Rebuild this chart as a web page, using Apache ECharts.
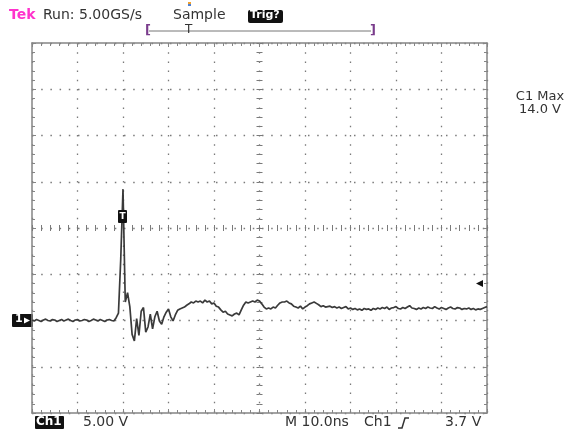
<!DOCTYPE html>
<html>
<head>
<meta charset="utf-8">
<script src="https://cdn.jsdelivr.net/npm/echarts@6/dist/echarts.min.js"></script>
<style>
  html, body { margin: 0; padding: 0; background: #fff; }
  #main { width: 581px; height: 432px; }
</style>
</head>
<body>
<div id="main"></div>
<script>
// scope settings: 10 ns/div, 5 V/div, 0.5 ns per sample
var sampleStep = 0.5;
var timeRange = [0, 100];
var voltRange = [-10, 30];

// Ch1 trace in volts, one value per 0.5 ns, 10 values per row (5 ns)
var ch1Volts = [
  0.05, -0.05, 0.1, 0.0, -0.1, 0.05, 0.15, 0.0, -0.05, 0.1,
  0.05, -0.1, 0.0, 0.1, -0.05, 0.05, 0.15, 0.0, -0.1, 0.05,
  0.1, -0.05, 0.0, 0.1, 0.05, -0.1, 0.0, 0.15, 0.05, -0.05,
  0.1, 0.0, -0.1, 0.05, 0.1, 0.0, -0.05, 0.3, 0.8, 6.6,
  14.2, 2.0, 3.0, 1.5, -1.5, -2.2, 0.2, -1.6, 1.0, 1.4,
  -1.25, -0.7, 0.7, -0.9, 0.4, 1.0, -0.05, -0.4, 0.4, 0.9,
  1.25, 0.4, -0.05, 0.6, 1.1, 1.25, 1.35, 1.45, 1.65, 1.8,
  2.0, 1.9, 2.1, 2.0, 2.1, 1.9, 2.2, 2.0, 2.1, 1.8,
  1.9, 1.55, 1.45, 1.15, 0.9, 1.0, 0.7, 0.6, 0.5, 0.7,
  0.8, 0.6, 1.15, 1.65, 2.0, 1.9, 2.0, 2.1, 2.0, 2.2,
  2.1, 1.8, 1.45, 1.25, 1.35, 1.25, 1.45, 1.35, 1.65, 1.9,
  2.0, 2.0, 2.1, 1.9, 1.8, 1.55, 1.45, 1.35, 1.55, 1.25,
  1.45, 1.6, 1.8, 1.9, 2.0, 1.85, 1.7, 1.5, 1.6, 1.45,
  1.5, 1.55, 1.4, 1.5, 1.35, 1.45, 1.3, 1.4, 1.5, 1.25,
  1.35, 1.2, 1.3, 1.15, 1.25, 1.1, 1.3, 1.2, 1.25, 1.1,
  1.3, 1.2, 1.35, 1.25, 1.4, 1.3, 1.45, 1.2, 1.35, 1.4,
  1.5, 1.3, 1.25, 1.4, 1.3, 1.45, 1.6, 1.35, 1.3, 1.2,
  1.35, 1.25, 1.4, 1.3, 1.45, 1.35, 1.3, 1.5, 1.35, 1.25,
  1.4, 1.3, 1.2, 1.35, 1.45, 1.3, 1.25, 1.4, 1.35, 1.2,
  1.3, 1.25, 1.35, 1.2, 1.3, 1.15, 1.25, 1.2, 1.3, 1.4,
  1.5
];

var topLabels = ['Tek', 'Run: 5.00GS/s', 'Sample', 'Trig?'];
var bottomLabels = ['Ch1', '5.00 V', 'M 10.0ns', 'Ch1', '3.7 V'];
var measLabels = ['C1 Max', '14.0 V'];

var traceData = ch1Volts.map(function (v, i) { return [i * sampleStep, v]; });

var frameColor = '#858585';
var dotColor = '#7a7a7a';
var txtFont = '14px "DejaVu Sans", sans-serif';
var measFont = '13px "DejaVu Sans", sans-serif';
var gridBox = { left: 32, top: 43, width: 455, height: 370 };

function frameAxis(extra) {
  var base = {
    gridIndex: 0,
    type: 'value',
    axisLine: { show: true, onZero: false, lineStyle: { color: frameColor, width: 1.5 } },
    axisTick: { show: true, inside: true, length: 4, lineStyle: { color: frameColor } },
    minorTick: { show: true, splitNumber: 5, length: 3, lineStyle: { color: frameColor } },
    axisLabel: { show: false },
    splitLine: { show: false }
  };
  return Object.assign(base, extra);
}

function crossAxis(grid, inside, extra) {
  var base = {
    gridIndex: grid,
    type: 'value',
    axisLine: { show: false, onZero: true },
    axisTick: { show: true, inside: inside, length: 3, lineStyle: { color: dotColor } },
    minorTick: { show: true, splitNumber: 5, length: 3, lineStyle: { color: dotColor } },
    axisLabel: { show: false },
    splitLine: { show: false }
  };
  return Object.assign(base, extra);
}

var dotted = { show: true, lineStyle: { color: dotColor, width: 1.3, type: [1.5, 7.7] } };

var chart = echarts.init(document.getElementById('main'));

var option = {
  backgroundColor: '#fff',
  animation: false,
  grid: [
    Object.assign({}, gridBox),
    Object.assign({}, gridBox),
    Object.assign({}, gridBox)
  ],
  xAxis: [
    frameAxis({ position: 'bottom', min: timeRange[0], max: timeRange[1], interval: 10, splitLine: dotted }),
    frameAxis({ position: 'top', min: timeRange[0], max: timeRange[1], interval: 10 }),
    crossAxis(1, false, { min: -5, max: 5, interval: 1 }),
    crossAxis(2, true, { min: -5, max: 5, interval: 1 })
  ],
  yAxis: [
    frameAxis({ position: 'left', min: voltRange[0], max: voltRange[1], interval: 5, splitLine: dotted }),
    frameAxis({ position: 'right', min: voltRange[0], max: voltRange[1], interval: 5 }),
    crossAxis(1, false, { min: -4, max: 4, interval: 1 }),
    crossAxis(2, true, { min: -4, max: 4, interval: 1 })
  ],
  series: [{
    name: 'Ch1',
    type: 'line',
    xAxisIndex: 0,
    yAxisIndex: 0,
    data: traceData,
    showSymbol: false,
    smooth: false,
    lineStyle: { color: '#3a3a3a', width: 1.7 },
    z: 5
  }],
  graphic: [
    // top status line
    { type: 'text', left: 9, top: 8, style: { text: topLabels[0], font: 'bold 14px "DejaVu Sans", sans-serif', fill: '#ff33cc' } },
    { type: 'text', left: 43, top: 8, style: { text: topLabels[1], font: txtFont, fill: '#333' } },
    { type: 'text', left: 173, top: 8, style: { text: topLabels[2], font: txtFont, fill: '#333' } },
    { type: 'rect', shape: { x: 248, y: 10, width: 35, height: 13, r: 2 }, style: { fill: '#111' } },
    { type: 'text', left: 250, top: 10, style: { text: topLabels[3], font: 'bold 11px "DejaVu Sans", sans-serif', fill: '#fff' } },
    { type: 'rect', shape: { x: 188, y: 2, width: 3, height: 2 }, style: { fill: '#f0a030' } },
    { type: 'rect', shape: { x: 188, y: 4, width: 3, height: 2 }, style: { fill: '#5080d0' } },
    // record view bracket
    { type: 'line', shape: { x1: 149, y1: 31, x2: 371, y2: 31 }, style: { stroke: '#777', lineWidth: 1 } },
    { type: 'text', left: 145, top: 24, style: { text: '[', font: 'bold 13px "DejaVu Sans", sans-serif', fill: '#7a3c8c' } },
    { type: 'text', left: 370, top: 24, style: { text: ']', font: 'bold 13px "DejaVu Sans", sans-serif', fill: '#7a3c8c' } },
    { type: 'text', left: 185, top: 24, style: { text: 'T', font: '12px "DejaVu Sans", sans-serif', fill: '#333' } },
    // measurement readout
    { type: 'text', x: 540, y: 97, style: { text: measLabels[0], font: measFont, fill: '#333', align: 'center', verticalAlign: 'middle' } },
    { type: 'text', x: 540, y: 110, style: { text: measLabels[1], font: measFont, fill: '#333', align: 'center', verticalAlign: 'middle' } },
    // ground marker
    { type: 'rect', shape: { x: 12, y: 314, width: 21, height: 13, r: 1 }, style: { fill: '#111' } },
    { type: 'text', left: 15, top: 314, style: { text: '1', font: 'bold 11px "DejaVu Sans", sans-serif', fill: '#fff' } },
    { type: 'polygon', shape: { points: [[24, 317.5], [30, 320.5], [24, 323.5]] }, style: { fill: '#fff' } },
    // trigger point marker on trace
    { type: 'rect', shape: { x: 118, y: 210, width: 9, height: 13, r: 1 }, style: { fill: '#111' }, z: 10 },
    { type: 'text', x: 122.5, y: 216.5, style: { text: 'T', font: 'bold 9px "DejaVu Sans", sans-serif', fill: '#fff', align: 'center', verticalAlign: 'middle' }, z: 11 },
    // trigger level arrow
    { type: 'polygon', shape: { points: [[476, 283.5], [483, 280], [483, 287]] }, style: { fill: '#111' } },
    // bottom status line
    { type: 'rect', shape: { x: 35, y: 416, width: 29, height: 13, r: 1 }, style: { fill: '#111' } },
    { type: 'text', left: 36, top: 416, style: { text: bottomLabels[0], font: 'bold 12px "DejaVu Sans", sans-serif', fill: '#fff' } },
    { type: 'text', left: 83, top: 415, style: { text: bottomLabels[1], font: txtFont, fill: '#333' } },
    { type: 'text', left: 285, top: 415, style: { text: bottomLabels[2], font: txtFont, fill: '#333' } },
    { type: 'text', left: 364, top: 415, style: { text: bottomLabels[3], font: txtFont, fill: '#333' } },
    { type: 'polyline', shape: { points: [[398, 428], [402, 428], [405, 418], [409, 418]] }, style: { stroke: '#333', lineWidth: 1.5, fill: null } },
    { type: 'text', left: 445, top: 415, style: { text: bottomLabels[4], font: txtFont, fill: '#333' } }
  ]
};

chart.setOption(option);
</script>
</body>
</html>
